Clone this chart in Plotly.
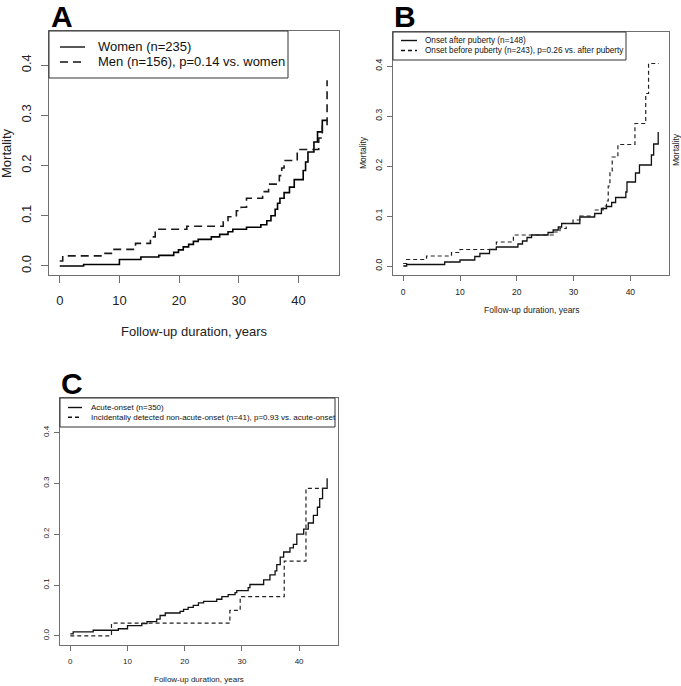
import plotly.graph_objects as go

W, H = 681, 686

# ---------------- data ----------------
x_ticks = [0, 10, 20, 30, 40]
y_ticks = [0.0, 0.1, 0.2, 0.3, 0.4]
y_tick_labels = ["0.0", "0.1", "0.2", "0.3", "0.4"]

# Panel A
a_women_t = [0, 4.0, 10.0, 13.6, 16.6, 19.1, 19.9, 20.7, 21.6, 22.4, 23.2, 25.4, 26.8, 28.2,
             29.0, 31.3, 33.7, 34.7, 35.4, 36.1, 36.5, 36.9, 37.6, 38.5, 39.3, 40.8, 41.2,
             41.6, 42.6, 43.2, 44.0, 44.9]
a_women_m = [0.0, 0.003, 0.013, 0.018, 0.021, 0.027, 0.032, 0.038, 0.043, 0.049, 0.053, 0.058,
             0.063, 0.068, 0.073, 0.077, 0.082, 0.090, 0.100, 0.113, 0.125, 0.135, 0.146, 0.157,
             0.172, 0.190, 0.207, 0.227, 0.247, 0.267, 0.290, 0.290]
a_men_t = [0, 0.5, 7.2, 9.1, 12.7, 15.2, 16.0, 21.3, 27.4, 28.2, 29.6, 30.4, 31.3, 34.0, 35.0,
           36.8, 37.2, 37.6, 39.8, 43.4, 44.0, 44.8]
a_men_m = [0.010, 0.020, 0.025, 0.033, 0.045, 0.058, 0.073, 0.079, 0.088, 0.098, 0.110, 0.117,
           0.135, 0.148, 0.163, 0.180, 0.195, 0.210, 0.232, 0.255, 0.280, 0.370]

# Panel B
b_after_t = [0, 0.6, 7.3, 10.0, 12.6, 13.5, 15.2, 16.4, 20.2, 21.0, 21.8, 22.6, 25.5, 26.4, 27.3,
             27.9, 31.1, 33.7, 34.9, 35.8, 36.7, 37.4, 39.2, 39.4, 40.9, 41.6, 43.7, 44.1, 44.9]
b_after_m = [0.0, 0.003, 0.008, 0.012, 0.019, 0.025, 0.033, 0.038, 0.044, 0.050, 0.057, 0.062,
             0.067, 0.072, 0.078, 0.085, 0.098, 0.105, 0.115, 0.119, 0.127, 0.137, 0.148, 0.168,
             0.186, 0.202, 0.222, 0.244, 0.268]
b_before_t = [0, 0.6, 4.1, 8.5, 10.0, 16.4, 19.4, 26.4, 27.6, 28.7, 29.9, 31.1, 33.7, 35.2, 35.8,
              36.1, 36.4, 36.8, 37.8, 40.8, 42.7, 43.2, 45.0]
b_before_m = [0.005, 0.013, 0.020, 0.027, 0.033, 0.048, 0.062, 0.068, 0.075, 0.085, 0.092, 0.100,
              0.112, 0.120, 0.130, 0.160, 0.190, 0.218, 0.243, 0.285, 0.345, 0.405, 0.405]

# Panel C
c_acute_t = [0, 0.5, 4.0, 8.4, 10.0, 12.5, 13.4, 15.1, 15.7, 16.6, 19.2, 19.8, 20.6, 21.5, 22.4,
             23.3, 25.6, 26.5, 27.6, 28.8, 29.1, 31.1, 31.4, 33.8, 34.9, 35.8, 36.1, 36.7, 37.3,
             38.4, 39.0, 39.6, 40.8, 41.6, 42.5, 43.2, 43.6, 44.1, 44.9]
c_acute_m = [0.004, 0.008, 0.011, 0.014, 0.020, 0.024, 0.028, 0.033, 0.040, 0.045, 0.048, 0.052,
             0.056, 0.060, 0.065, 0.068, 0.072, 0.077, 0.081, 0.085, 0.089, 0.095, 0.101, 0.110,
             0.120, 0.128, 0.140, 0.155, 0.165, 0.173, 0.180, 0.200, 0.210, 0.222, 0.237, 0.253,
             0.270, 0.290, 0.310]
c_incid_t = [0, 7.2, 27.9, 29.7, 37.4, 41.2, 44.9]
c_incid_m = [0.0, 0.025, 0.050, 0.077, 0.147, 0.290, 0.290]

# ---------------- layout helpers ----------------
FONT = "Liberation Sans, Arial, sans-serif"
FRAME = "#6f6f6f"


def px(x):
    return x / W


def py(y):
    return 1 - y / H


panels = [
    dict(key="", box=(49, 31, 339, 275), fs=13, ticklen=7, xstand=6, ystand=5,
         letter="A", letter_xy=(49, 16),
         xtitle_y=331, ytitles=[(7, 153)],
         legend=dict(box=(49, 31, 288, 78), sx=(60, 85), tx=96, ys=(47, 62),
                     dash="8px,5px", fs=13,
                     texts=["Women (n=235)", "Men (n=156), p=0.14 vs. women"]),
         series=[(a_women_t, a_women_m, "solid", "#000000", 1.6),
                 (a_men_t, a_men_m, "8px,5px", "#1a1a1a", 1.6)]),
    dict(key="2", box=(393, 32, 669, 275), fs=8.5, ticklen=5, xstand=4, ystand=2,
         letter="B", letter_xy=(392, 16),
         xtitle_y=310, ytitles=[(363, 153), (676, 150)],
         legend=dict(box=(393, 32, 626, 60), sx=(401, 417), tx=423, ys=(40.5, 50.5),
                     dash="4px,3px", fs=8.2,
                     texts=["Onset after puberty (n=148)",
                            "Onset before puberty (n=243), p=0.26 vs. after puberty"]),
         series=[(b_after_t, b_after_m, "solid", "#111111", 1.3),
                 (b_before_t, b_before_m, "4px,3px", "#222222", 1.2)]),
    dict(key="3", box=(60, 398, 338, 645), fs=8, ticklen=5, xstand=3, ystand=2,
         letter="C", letter_xy=(59, 383),
         xtitle_y=679, ytitles=[],
         legend=dict(box=(60, 398, 335, 427), sx=(68, 82), tx=89, ys=(407.5, 417.3),
                     dash="4px,3px", fs=8,
                     texts=["Acute-onset (n=350)",
                            "Incidentally detected non-acute-onset (n=41), p=0.93 vs. acute-onset"]),
         series=[(c_acute_t, c_acute_m, "solid", "#111111", 1.3),
                 (c_incid_t, c_incid_m, "4px,3px", "#222222", 1.2)]),
]

fig = go.Figure()
layout = dict(width=W, height=H, margin=dict(l=0, r=0, t=0, b=0),
              paper_bgcolor="white", plot_bgcolor="white", showlegend=False,
              font=dict(family=FONT, color="#222"))
shapes = []
annotations = []

for p in panels:
    k = p["key"]
    x0, y0, x1, y1 = p["box"]
    layout["xaxis" + k] = dict(
        domain=[px(x0), px(x1)], range=[-1.8, 46.8], anchor="y" + k,
        tickvals=x_ticks, ticks="outside", ticklen=p["ticklen"], tickcolor=FRAME,
        showline=True, mirror=True, linecolor=FRAME, linewidth=1,
        showgrid=False, zeroline=False, ticklabelstandoff=p["xstand"],
        tickfont=dict(size=p["fs"], family=FONT, color="#222"))
    layout["yaxis" + k] = dict(
        domain=[py(y1), py(y0)], range=[-0.018, 0.468], anchor="x" + k,
        tickvals=y_ticks, ticktext=y_tick_labels, tickangle=-90,
        ticks="outside", ticklen=p["ticklen"], tickcolor=FRAME,
        showline=True, mirror=True, linecolor=FRAME, linewidth=1,
        showgrid=False, zeroline=False, ticklabelstandoff=p["ystand"],
        tickfont=dict(size=p["fs"], family=FONT, color="#222"))

    for t, m, dash, col, lw in p["series"]:
        fig.add_trace(go.Scatter(x=t, y=m, mode="lines", line_shape="hv",
                                 line=dict(color=col, width=lw, dash=dash),
                                 xaxis="x" + k, yaxis="y" + k, hoverinfo="skip"))

    # panel letter
    lx, ly = p["letter_xy"]
    annotations.append(dict(x=px(lx), y=py(ly), xref="paper", yref="paper",
                            xanchor="left", yanchor="middle", showarrow=False,
                            text="<b>%s</b>" % p["letter"],
                            font=dict(size=30, family=FONT, color="#000")))
    # x title
    annotations.append(dict(x=px((x0 + x1) / 2), y=py(p["xtitle_y"]), xref="paper",
                            yref="paper", xanchor="center", yanchor="middle",
                            showarrow=False, text="Follow-up duration, years",
                            font=dict(size=p["fs"], family=FONT, color="#222")))
    for tx, ty in p["ytitles"]:
        annotations.append(dict(x=px(tx), y=py(ty), xref="paper", yref="paper",
                                xanchor="center", yanchor="middle", showarrow=False,
                                textangle=-90, text="Mortality",
                                font=dict(size=p["fs"], family=FONT, color="#222")))

    # legend box
    lg = p["legend"]
    bx0, by0, bx1, by1 = lg["box"]
    shapes.append(dict(type="rect", xref="paper", yref="paper",
                       x0=px(bx0), x1=px(bx1), y0=py(by1), y1=py(by0),
                       line=dict(color="#333", width=1), fillcolor="white", layer="above"))
    for i, (txt, yy) in enumerate(zip(lg["texts"], lg["ys"])):
        shapes.append(dict(type="line", xref="paper", yref="paper",
                           x0=px(lg["sx"][0]), x1=px(lg["sx"][1]), y0=py(yy), y1=py(yy),
                           line=dict(color="#111", width=1.4,
                                     dash="solid" if i == 0 else lg["dash"]),
                           layer="above"))
        annotations.append(dict(x=px(lg["tx"]), y=py(yy), xref="paper", yref="paper",
                                xanchor="left", yanchor="middle", showarrow=False,
                                text=txt, font=dict(size=lg["fs"], family=FONT, color="#111")))

layout["shapes"] = shapes
layout["annotations"] = annotations
fig.update_layout(**layout)
# remove the default 8 px page margin so the figure fills the window exactly
fig.write_html("out.html", config={"displayModeBar": False},
               post_script="document.body.style.margin='0px';"
                           "document.body.style.overflow='hidden';")
